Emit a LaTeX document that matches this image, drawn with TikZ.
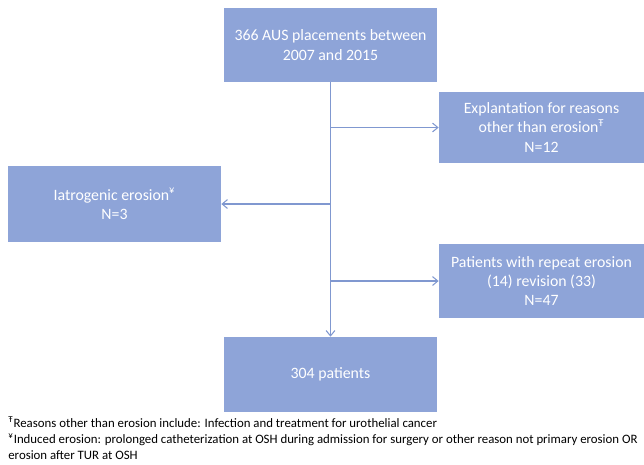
\documentclass[tikz,border=0pt]{standalone}
\usepackage{fontspec}
\setmainfont{Carlito}
\definecolor{boxblue}{RGB}{142,164,216}
\definecolor{lineblue}{RGB}{128,152,208}
\usetikzlibrary{arrows.meta}

\begin{document}
\begin{tikzpicture}[x=0.02cm,y=-0.02cm,
	flowbox/.style={fill=boxblue,text=white,align=center,inner sep=0pt,font=\fontsize{9}{11}\selectfont},
	flowline/.style={draw=lineblue,line width=0.6pt},
	every path/.style={line join=round}]
						\useasboundingbox (0,0) rectangle (644,464);
						\node at (330.5,45) [flowbox,minimum width=213*0.02cm,minimum height=74*0.02cm] (top) {366 AUS placements between\\2007 and 2015};
						\node at (541.5,127.5) [flowbox,minimum width=205*0.02cm,minimum height=71*0.02cm] (expl) {Explantation for reasons\\other than erosion\textsuperscript{Ŧ}\\N=12};
						\node at (114.5,204) [flowbox,minimum width=213*0.02cm,minimum height=76*0.02cm] (iatro) {Iatrogenic erosion\textsuperscript{¥}\\N=3};
						\node at (541.5,281) [flowbox,minimum width=205*0.02cm,minimum height=74*0.02cm] (repeat) {Patients with repeat erosion\\(14) revision (33)\\N=47};
						\node at (330.5,374.5) [flowbox,minimum width=213*0.02cm,minimum height=75*0.02cm] (final) {304 patients};
						\draw[flowline,-{Straight Barb[length=3pt,width=5pt]}] (top.south) -- (final.north);
						\draw[flowline,-{Straight Barb[length=3pt,width=5pt]}] (top.south |- expl.west) -- (expl.west);
						\draw[flowline,-{Straight Barb[length=3pt,width=5pt]}] (top.south |- iatro.east) -- (iatro.east);
						\draw[flowline,-{Straight Barb[length=3pt,width=5pt]}] (top.south |- repeat.west) -- (repeat.west);
						\node at (8,416) [anchor=north west,align=left,inner sep=0pt,font=\fontsize{7.3}{9.1}\selectfont] (notes) {\textsuperscript{Ŧ}Reasons other than erosion include: Infection and treatment for urothelial cancer\\
						\textsuperscript{¥}Induced erosion: prolonged catheterization at OSH during admission for surgery or other reason not primary erosion OR\\
						erosion after TUR at OSH};
					\end{tikzpicture}
\end{document}
